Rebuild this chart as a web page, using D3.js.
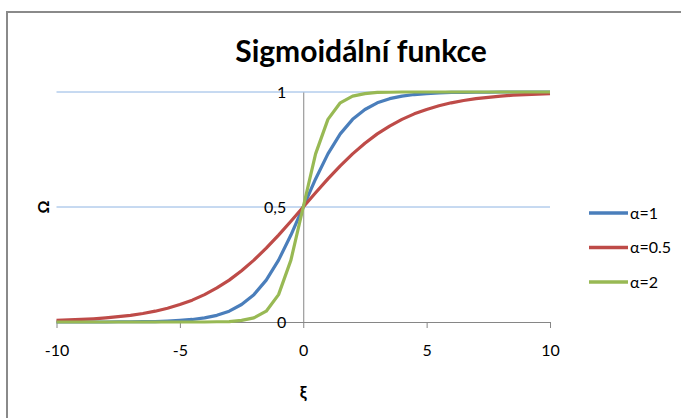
<!DOCTYPE html>
<meta charset="utf-8">
<style>
    body {
        margin: 0;
        padding: 0;
        background: #fff;
    }
    text {
        font-family: Lato, "Open Sans", sans-serif;
        fill: #000;
    }
    .grid line {
        stroke: #8eb4e3;
        stroke-width: 1;
    }
    .axis path, .axis line {
        stroke: #868686;
        stroke-width: 1;
        fill: none;
    }
    .series {
        fill: none;
        stroke-width: 3.2;
        stroke-linejoin: round;
    }
</style>
<body>
<script src="https://d3js.org/d3.v7.min.js"></script>
<script>
    // x samples (step 0.5)
    var xs = [-10, -9.5, -9, -8.5, -8, -7.5, -7, -6.5, -6, -5.5, -5, -4.5, -4, -3.5, -3, -2.5, -2, -1.5, -1, -0.5,
              0, 0.5, 1, 1.5, 2, 2.5, 3, 3.5, 4, 4.5, 5, 5.5, 6, 6.5, 7, 7.5, 8, 8.5, 9, 9.5, 10];

    // alpha = 1
    var alpha1 = [0.000, 0.000, 0.000, 0.000, 0.000, 0.001, 0.001, 0.002, 0.002, 0.004, 0.007, 0.011, 0.018, 0.029, 0.047, 0.076, 0.119, 0.182, 0.269, 0.378,
                  0.500, 0.622, 0.731, 0.818, 0.881, 0.924, 0.953, 0.971, 0.982, 0.989, 0.993, 0.996, 0.998, 0.998, 0.999, 0.999, 1.000, 1.000, 1.000, 1.000, 1.000];

    // alpha = 0.5
    var alpha05 = [0.007, 0.009, 0.011, 0.014, 0.018, 0.023, 0.029, 0.037, 0.047, 0.060, 0.076, 0.095, 0.119, 0.148, 0.182, 0.223, 0.269, 0.321, 0.378, 0.438,
                   0.500, 0.562, 0.622, 0.679, 0.731, 0.777, 0.818, 0.852, 0.881, 0.905, 0.924, 0.940, 0.953, 0.963, 0.971, 0.977, 0.982, 0.986, 0.989, 0.991, 0.993];

    // alpha = 2
    var alpha2 = [0.000, 0.000, 0.000, 0.000, 0.000, 0.000, 0.000, 0.000, 0.000, 0.000, 0.000, 0.000, 0.000, 0.001, 0.002, 0.007, 0.018, 0.047, 0.119, 0.269,
                  0.500, 0.731, 0.881, 0.953, 0.982, 0.993, 0.998, 0.999, 1.000, 1.000, 1.000, 1.000, 1.000, 1.000, 1.000, 1.000, 1.000, 1.000, 1.000, 1.000, 1.000];

    var seriesNames = ["\u03b1=1", "\u03b1=0.5", "\u03b1=2"];
    var seriesColors = ["#4a7ebb", "#be4b48", "#98b954"];
    var xTicks = [-10, -5, 0, 5, 10];
    var yTicks = [0, 0.5, 1];

    var width = 681,
        height = 418;

    var x = d3.scaleLinear().domain([-10, 10]).range([56.5, 550]);
    var y = d3.scaleLinear().domain([0, 1]).range([322, 92]);

    // Excel style: comma decimal, plain hyphen for minus
    var czech = d3.formatLocale({decimal: ",", thousands: " ", grouping: [3], currency: ["", " Kč"], minus: "-"});
    var yFormat = czech.format("~g");
    var xFormat = czech.format("d");

    var svg = d3.select("body")
        .append("svg")
        .attr("width", width)
        .attr("height", height);

    // chart frame
    svg.append("rect")
        .attr("x", 7)
        .attr("y", 12)
        .attr("width", 720)
        .attr("height", 460)
        .style("fill", "none")
        .style("stroke", "#8a8a8a")
        .style("stroke-width", 2);

    svg.append("text")
        .attr("x", 361)
        .attr("y", 62)
        .attr("text-anchor", "middle")
        .style("font-size", "30px")
        .style("font-weight", "bold")
        .text("Sigmoidální funkce");

    // horizontal gridlines
    svg.append("g")
        .attr("class", "grid")
        .selectAll("line")
        .data(yTicks.filter(function(d) { return d > 0; }))
        .enter().append("line")
        .attr("x1", x(-10))
        .attr("x2", x(10))
        .attr("y1", function(d) { return y(d); })
        .attr("y2", function(d) { return y(d); });

    // x axis at y = 0
    var xAxis = svg.append("g")
        .attr("class", "axis")
        .attr("transform", "translate(0," + y(0) + ")")
        .call(d3.axisBottom(x).tickValues(xTicks).tickFormat(xFormat).tickSize(6).tickPadding(17).tickSizeOuter(0));
    xAxis.selectAll("text").style("font-size", "16px").attr("fill", "#000");

    // y axis at x = 0
    var yAxis = svg.append("g")
        .attr("class", "axis")
        .attr("transform", "translate(" + x(0) + ",0)")
        .call(d3.axisLeft(y).tickValues(yTicks).tickFormat(yFormat).tickSize(0).tickPadding(17).tickSizeOuter(0));
    yAxis.selectAll("text").style("font-size", "16px").attr("fill", "#000");

    var line = d3.line()
        .x(function(d) { return x(d[0]); })
        .y(function(d) { return y(d[1]); });

    var allSeries = [alpha1, alpha05, alpha2];

    svg.append("g")
        .selectAll("path")
        .data(allSeries)
        .enter().append("path")
        .attr("class", "series")
        .attr("d", function(vals) { return line(vals.map(function(v, i) { return [xs[i], v]; })); })
        .style("stroke", function(d, i) { return seriesColors[i]; });

    // axis titles
    svg.append("text")
        .attr("x", x(0))
        .attr("y", 398)
        .attr("text-anchor", "middle")
        .style("font-size", "17px")
        .style("font-weight", "bold")
        .text("\u03be");

    svg.append("text")
        .attr("transform", "translate(49," + y(0.5) + ") rotate(-90)")
        .attr("text-anchor", "middle")
        .style("font-size", "16px")
        .style("font-weight", "bold")
        .text("\u03a9");

    // legend
    var legend = svg.append("g")
        .attr("transform", "translate(589,213)")
        .selectAll("g")
        .data(seriesNames)
        .enter().append("g")
        .attr("transform", function(d, i) { return "translate(0," + i * 34.5 + ")"; });

    legend.append("line")
        .attr("x1", 0)
        .attr("x2", 39)
        .style("stroke", function(d, i) { return seriesColors[i]; })
        .style("stroke-width", 3.5);

    legend.append("text")
        .attr("x", 41)
        .attr("dy", "0.35em")
        .style("font-size", "16px")
        .text(function(d) { return d; });
</script>
</body>
</html>
